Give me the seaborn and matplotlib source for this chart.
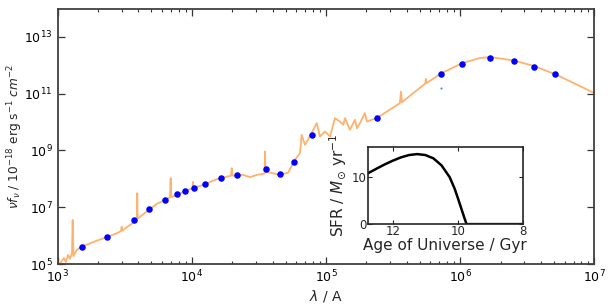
import matplotlib
matplotlib.use("Agg")
import matplotlib.pyplot as plt
import numpy as np
import pandas as pd
import seaborn as sns
from matplotlib.ticker import LogLocator, NullFormatter, NullLocator

# model spectrum (wavelength in Angstrom, nu f_nu in 1e-18 erg/s/cm^2)
spec_wave = [
    1000, 1045, 1117, 1156, 1197, 1239, 1282, 1297, 1315, 1390, 1556, 1959,
    2323, 2761, 2972, 3006, 3040, 3273, 3776, 3905, 3926, 3950, 4000, 4613,
    5483, 6324, 6887, 6966, 7040, 7727, 9705, 10150, 10210, 10270, 12190,
    15350, 19280, 19590, 19860, 20100, 24210, 27160, 30480, 34120, 34900,
    35160, 35400, 38280, 45390, 52360, 58750, 63970, 65920, 69820, 78160,
    85310, 90160, 98400, 1.072e5, 1.167e5, 1.213e5, 1.271e5, 1.346e5,
    1.387e5, 1.510e5, 1.644e5, 1.702e5, 1.791e5, 1.950e5, 2.018e5, 2.388e5,
    3.556e5, 3.622e5, 3.681e5, 5.500e5, 5.559e5, 5.623e5, 7.244e5, 1.030e6,
    1.403e6, 1.667e6, 2.483e6, 3.499e6, 5.224e6, 1.0e7,
]
spec_flux = [
    8.5e4, 1.08e5, 1.62e5, 1.17e5, 2.09e5, 1.51e5, 2.45e5, 3.57e6, 1.91e5,
    3.12e5, 4.32e5, 6.64e5, 8.75e5, 1.21e6, 1.46e6, 2.07e6, 1.50e6, 1.97e6,
    3.11e6, 3.50e6, 3.13e7, 4.0e6, 4.10e6, 7.00e6, 1.31e7, 1.81e7, 2.22e7,
    1.06e8, 2.30e7, 2.72e7, 4.33e7, 4.7e7, 7.82e7, 4.8e7, 6.14e7, 9.75e7,
    1.27e8, 1.29e8, 2.38e8, 1.30e8, 1.38e8, 1.15e8, 1.38e8, 1.50e8, 1.55e8,
    9.18e8, 1.76e8, 1.67e8, 1.38e8, 1.67e8, 4.68e8, 8.05e8, 3.56e9, 1.58e9,
    4.09e9, 9.23e9, 3.10e9, 4.66e9, 3.10e9, 1.38e10, 1.21e10, 1.05e10,
    8.04e9, 1.38e10, 5.35e9, 1.21e10, 6.04e9, 9.23e9, 2.08e10, 1.05e10,
    1.38e10, 4.68e10, 1.20e11, 5.00e10, 2.30e11, 3.37e11, 2.38e11, 5.27e11,
    1.19e12, 1.81e12, 1.97e12, 1.49e12, 9.70e11, 4.67e11, 1.05e11,
]

# photometry
phot_wave = [
    1531, 2323, 3716, 4830, 6295, 7768, 8955, 10340, 12620, 16520, 21620,
    35700, 45400, 57800, 79100, 2.39e5, 7.23e5, 1.03e6, 1.66e6, 2.51e6,
    3.56e6, 5.11e6,
]
phot_flux = [
    4.08e5, 8.97e5, 3.66e6, 8.73e6, 1.81e7, 2.95e7, 3.67e7, 4.92e7, 6.81e7,
    1.06e8, 1.38e8, 2.31e8, 1.50e8, 3.88e8, 3.48e9, 1.38e10, 4.94e11,
    1.14e12, 1.86e12, 1.46e12, 8.93e11, 4.79e11,
]
limit_wave = [7.23e5]
limit_flux = [1.59e11]

# star formation history
age_gyr = [12.77, 12.5, 12.25, 12.0, 11.75, 11.5, 11.25, 11.0, 10.75, 10.5,
           10.25, 10.1, 10.0, 9.9, 9.8, 9.73, 8.0]
sfr = [10.8, 11.8, 12.7, 13.5, 14.2, 14.7, 14.9, 14.7, 14.0, 12.5, 10.0, 7.6,
       5.6, 3.5, 1.4, 0.0, 0.0]

sns.set_style("ticks", {"xtick.direction": "in", "ytick.direction": "in"})
plt.rcParams["font.family"] = ["DejaVu Sans"]
plt.rcParams["xtick.top"] = True
plt.rcParams["ytick.right"] = True

spec = pd.DataFrame({"wave": spec_wave, "flux": spec_flux})
phot = pd.DataFrame({"wave": phot_wave, "flux": phot_flux})
sfh = pd.DataFrame({"age": age_gyr, "sfr": sfr})

fig = plt.figure(figsize=(6.15, 3.07), dpi=100)
ax = fig.add_axes([0.0935, 0.140, 0.873, 0.832])
ax.set_xscale("log")
ax.set_yscale("log")
sns.lineplot(data=spec, x="wave", y="flux", ax=ax, sort=False, estimator=None,
             color="#ff7f0e", alpha=0.6, lw=1.3)
sns.scatterplot(data=phot, x="wave", y="flux", ax=ax, color="blue", s=22,
                linewidth=0, zorder=3)
ax.plot(limit_wave, limit_flux, "o", color="#3a8fd0", ms=1.5, mew=0)
ax.set_xlim(1e3, 1e7)
ax.set_ylim(1e5, 1e14)
ax.set_yticks([1e5, 1e7, 1e9, 1e11, 1e13])
ax.yaxis.set_minor_locator(NullLocator())
ax.xaxis.set_minor_locator(LogLocator(base=10, subs=np.arange(2, 10)))
ax.xaxis.set_minor_formatter(NullFormatter())
ax.tick_params(which="major", length=5, width=0.9, labelsize=9, colors="0.2")
ax.tick_params(which="minor", length=2.5, width=0.8, colors="0.2")
ax.tick_params(labelcolor="black")
for sp in ax.spines.values():
    sp.set_color("0.25")
    sp.set_linewidth(1.3)
ax.set_xlabel(r"$\lambda$ / A", fontsize=10, labelpad=2)
ax.set_ylabel(r"$\nu f_\nu$ / $10^{-18}$ erg s$^{-1}$ $cm^{-2}$", fontsize=8.7)
ax.yaxis.set_label_coords(-0.061, 0.5)

ins = fig.add_axes([0.598, 0.270, 0.252, 0.251])
sns.lineplot(data=sfh, x="age", y="sfr", ax=ins, sort=False, estimator=None,
             color="black", lw=1.8)
ins.set_xlim(12.77, 8)
ins.set_ylim(0, 16.4)
ins.set_xticks([12, 10, 8])
ins.set_yticks([0, 10])
ins.tick_params(length=3, width=0.8, labelsize=8.5, pad=1)
for sp in ins.spines.values():
    sp.set_color("0.15")
    sp.set_linewidth(1.2)
ins.set_xlabel("Age of Universe / Gyr", fontsize=11, labelpad=0)
ins.set_ylabel(r"SFR / $M_{\odot}$ yr$^{-1}$", fontsize=11, labelpad=2)

fig.savefig("out.png", dpi=100)
